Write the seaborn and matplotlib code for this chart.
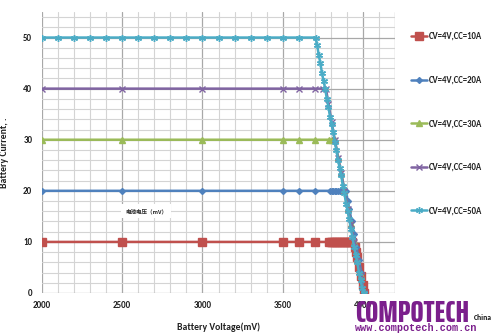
import matplotlib
matplotlib.use("Agg")
import matplotlib.pyplot as plt
import seaborn as sns
import pandas as pd
import logging
from matplotlib.ticker import MultipleLocator

logging.getLogger("matplotlib.font_manager").setLevel(logging.ERROR)

# ---- data ----
series_names = ["CV=4V,CC=10A", "CV=4V,CC=20A", "CV=4V,CC=30A", "CV=4V,CC=40A", "CV=4V,CC=50A"]

v10 = [2000, 2500, 3000, 3500, 3600, 3700, 3790, 3800, 3810, 3820, 3830, 3840, 3850, 3860, 3870,
       3880, 3890, 3900, 3910, 3920, 3930, 3948, 3956, 3964, 3975, 3985, 3998, 4008]
i10 = [10, 10, 10, 10, 10, 10, 10, 10, 10, 10, 10, 10, 10, 10, 10,
       10, 10, 10, 10, 10, 10, 9, 8, 7, 5, 3.3, 1.5, 0]

v20 = [2000, 2500, 3000, 3500, 3600, 3700, 3795, 3805, 3815, 3825, 3835, 3845, 3855, 3865, 3875,
       3885, 3895, 3905, 3915, 3930, 3945, 3960, 3975, 3990, 4005]
i20 = [20, 20, 20, 20, 20, 20, 20, 20, 20, 20, 20, 20, 20, 20, 20,
       20, 20, 18, 16.5, 14, 11.5, 9, 6.5, 4, 0]

v30 = [2000, 2500, 3000, 3500, 3600, 3700, 3790, 3810, 3825, 3845, 3865, 3885, 3905, 3925, 3945,
       3965, 3985, 4005]
i30 = [30, 30, 30, 30, 30, 30, 30, 30, 30, 26.5, 23.5, 20, 16.5, 13.5, 10, 6.5, 3.5, 0]

v40 = [2000, 2500, 3000, 3500, 3600, 3700, 3750, 3770, 3785, 3805, 3825, 3845, 3865, 3885, 3905,
       3925, 3945, 3965, 3985, 4005]
i40 = [40, 40, 40, 40, 40, 40, 40, 40, 37, 33.5, 30, 26.5, 23.5, 20, 16.5, 13.5, 10, 6.5, 3.5, 0]

v50 = [2000, 2100, 2200, 2300, 2400, 2500, 2600, 2700, 2800, 2900, 3000, 3100, 3200, 3300, 3400,
       3500, 3600, 3705, 3715, 3725, 3735, 3745, 3755, 3765, 3775, 3785, 3795, 3805, 3815, 3825,
       3835, 3845, 3855, 3865, 3875, 3885, 3895, 3905, 3915, 3925, 3935, 3945, 3955, 3965, 3975,
       3985, 3995, 4005]
i50 = [50, 50, 50, 50, 50, 50, 50, 50, 50, 50, 50, 50, 50, 50, 50,
       50, 50, 50, 48.5, 46.5, 45, 43, 41.5, 40, 38, 36.5, 34.5, 33, 31.5, 29.5,
       28, 26, 24.5, 23, 21, 19.5, 17.5, 16, 14.5, 12.5, 11, 9, 7.5, 6, 4, 2.5, 1, 0]

x_ticks = [2000, 2500, 3000, 3500, 4000]
y_ticks = [0, 10, 20, 30, 40, 50]

colors = ["#C0504D", "#4F81BD", "#9BBB59", "#8064A2", "#4BACC6"]
markers = ["s", "D", "^", "x", (6, 2, 0)]
msizes = [5.5, 3, 4, 4, 5]

frames = []
for name, v, c in zip(series_names, [v10, v20, v30, v40, v50], [i10, i20, i30, i40, i50]):
    frames.append(pd.DataFrame({"V": v, "I": c, "series": name}))

sns.set_theme(style="white")
plt.rcParams["font.family"] = ["Carlito", "Liberation Sans", "DejaVu Sans"]

fig = plt.figure(figsize=(4.96, 3.33), dpi=100)
ax = fig.add_axes([42 / 496, 40 / 333, 353 / 496, 281 / 333])

for df, col, mk, ms in zip(frames, colors, markers, msizes):
    sns.lineplot(data=df, x="V", y="I", ax=ax, color=col, marker=mk, markersize=ms,
                 markeredgecolor=col, markerfacecolor=col, markeredgewidth=1.0,
                 linewidth=1.8, sort=False, estimator=None, label=df["series"].iloc[0])

ax.set_xlim(2000, 4200)
ax.set_ylim(0, 55)
ax.set_xticks(x_ticks)
ax.set_yticks(y_ticks)
ax.xaxis.set_minor_locator(MultipleLocator(100))
ax.yaxis.set_minor_locator(MultipleLocator(2))
ax.grid(which="minor", color="#d4d4d4", linewidth=0.8)
ax.grid(which="major", color="#a8a8a8", linewidth=0.9)
ax.set_axisbelow(True)
for s in ["top", "bottom", "left", "right"]:
    ax.spines[s].set_visible(False)
ax.axvline(4200, color="#a8a8a8", lw=0.9, zorder=0)
ax.tick_params(which="both", length=0)
ax.tick_params(axis="y", pad=7, labelsize=6.5)
ax.tick_params(axis="x", pad=6, labelsize=6.5)
for lab in ax.get_xticklabels() + ax.get_yticklabels():
    lab.set_fontweight("bold")
    lab.set_color("#222222")

ax.set_xlabel("Battery Voltage(mV)", fontsize=7, fontweight="bold", color="#222222", labelpad=9)
ax.set_ylabel("Battery Current, .", fontsize=7, fontweight="bold", color="#222222", labelpad=10)

leg = ax.legend(loc="upper left", bbox_to_anchor=(411 / 496, 1 - 32 / 333),
                bbox_transform=fig.transFigure, frameon=False, fontsize=6.3,
                labelspacing=3.95, handlelength=1.8, handletextpad=0.2, borderpad=0,
                borderaxespad=0)
for t in leg.get_texts():
    t.set_fontweight("bold")
    t.set_color("#222222")

ax.text(2650, 16, "电池电压（mV）", fontsize=4, fontweight="bold",
        family=["Noto Sans CJK SC", "DejaVu Sans"], ha="center", va="center",
        bbox=dict(facecolor="white", edgecolor="none", pad=3))

# watermark logo
fig.text(355 / 496, 1 - 322 / 333, "COMPOTECH", fontsize=22.5, fontweight=800,
         color="#7B1F8C", family=["Saira ExtraCondensed", "Barlow Condensed", "DejaVu Sans"],
         ha="left", va="baseline")
fig.text(474 / 496, 1 - 320 / 333, "China", fontsize=5.5, fontweight="bold",
         color="#111111", ha="left", va="baseline")
fig.text(355 / 496, 1 - 331 / 333, "www.compotech.com.cn", fontsize=7.3, fontweight="bold",
         color="#7B1F8C", family=["Liberation Mono", "DejaVu Sans Mono"], ha="left", va="baseline")

fig.savefig("out.png", dpi=100)
